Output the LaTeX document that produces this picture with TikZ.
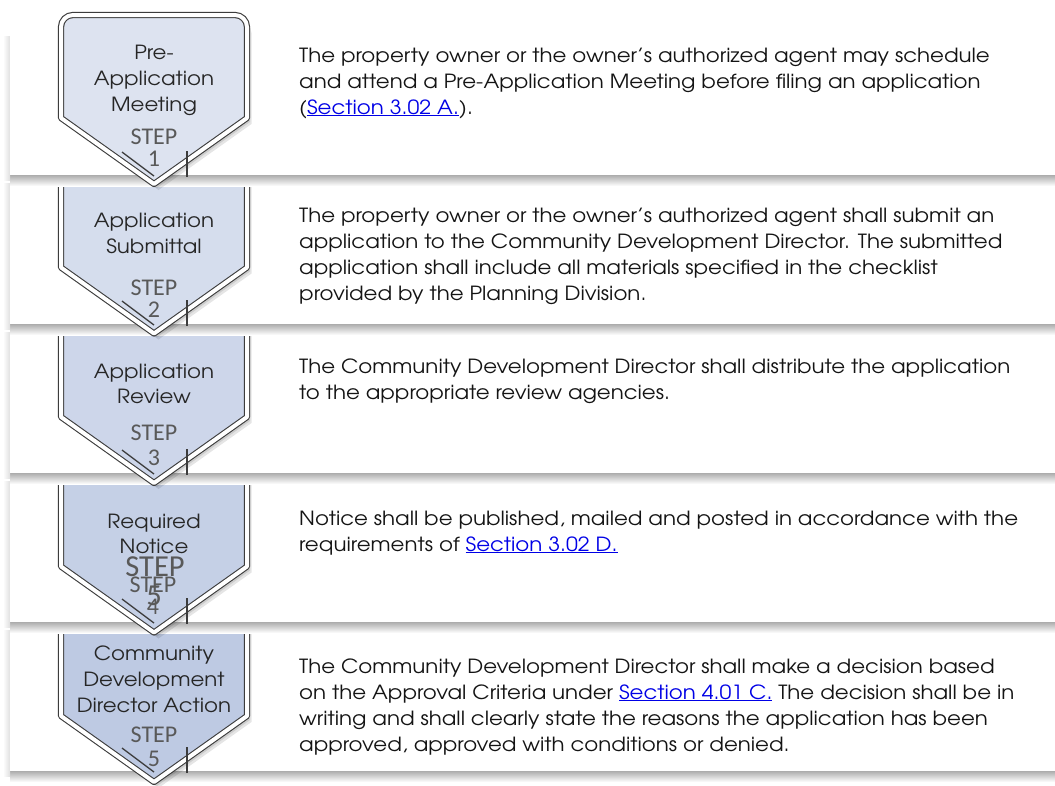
\documentclass[tikz,border=0pt]{standalone}
\usepackage{fontspec}
\setmainfont{texgyreadventor}[Extension=.otf, UprightFont=*-regular, BoldFont=*-bold, FakeStretch=1.095]
\newfontfamily\stepfont{Carlito}
\definecolor{chA}{RGB}{221,227,240}
\definecolor{chB}{RGB}{213,221,237}
\definecolor{chC}{RGB}{205,214,234}
\definecolor{chD}{RGB}{197,208,230}
\definecolor{chE}{RGB}{190,202,227}
\definecolor{chline}{RGB}{60,60,60}
\definecolor{labtxt}{RGB}{38,38,38}
\definecolor{steptxt}{RGB}{89,89,89}
\definecolor{linkblue}{RGB}{0,0,230}
\definecolor{bodytxt}{RGB}{20,20,20}
\newcommand\lnk[1]{\textcolor{linkblue}{\underline{#1}}}
\begin{document}
\begin{tikzpicture}[x=1pt,y=-1pt,
  chevp/.style={insert path={(154,15) -- (235,15) arc[start angle=-90,end angle=0,radius=12] -- (247,118) -- (154,184) -- (61,118) -- (61,27) arc[start angle=180,end angle=270,radius=12] -- cycle}},
  chevbox/.style={draw=chline, double=white, double distance=4pt, line width=1.1pt, line join=round},
  chevshadow/.style={fill=black, opacity=0.10},
  rowshadow/.style={top color=gray!65, bottom color=white},
  sideshadow/.style={left color=white, right color=gray!25},
  rowtext/.style={anchor=base west, inner sep=0pt, text=bodytxt, font=\fontsize{19.5}{26}\selectfont},
  labtext/.style={anchor=base, inner sep=0pt, text=labtxt, font=\fontsize{19.5}{26}\selectfont},
  steptext/.style={anchor=base, inner sep=0pt, text=steptxt, font=\stepfont\fontsize{24}{28}\selectfont},
  bigstep/.style={anchor=base, inner sep=0pt, text=steptxt, font=\stepfont\fontsize{30.5}{34}\selectfont},
  glitch/.style={draw=chline, line width=1.3pt}
]
\useasboundingbox (0,0) rectangle (1055,785);
\fill[white] (0,0) rectangle (1055,785);
% rows and chevrons, bottom to top
\foreach \k/\T/\B/\col in {5/627/771/chE,4/478/622/chD,3/329/473/chC,2/180/324/chB,1/33/175/chA}{
  \fill[rowshadow] (10,\B) rectangle (1055,\B+11);
  \fill[sideshadow] (3,\T+3) rectangle (10,\B+5);
  \fill[white] (10,\T) rectangle (1055,\B);
  \begin{scope}[shift={(0,{149.5*(\k-1)})}]
    \path[chevshadow, shift={(1.5,2)}, chevp];
    \path[chevshadow, shift={(3,4)}, chevp];
    \path[chevshadow, shift={(4.5,6)}, chevp];
    \path[fill=\col, chevp];
    \path[chevbox, chevp];
  \end{scope}
  \begin{scope}[shift={(0,{149*(\k-1)})}]
    \coordinate (ga\k) at (122,152);
    \coordinate (gb\k) at (154,176);
    \coordinate (gc\k) at (187,151);
    \coordinate (gd\k) at (187,177);
    \draw[glitch] (ga\k) -- (gb\k);
    \draw[glitch] (gc\k) -- (gd\k);
  \end{scope}
}
% chevron labels
\node[labtext] (l1a) at (154,59) {Pre-};
\node[labtext] (l1b) at (154,85) {Application};
\node[labtext] (l1c) at (154,111) {Meeting};
\node[steptext] (s1) at (154,144) {STEP};
\node[steptext] (n1) at (154,166) {1};
\node[labtext] (l2a) at (154,227) {Application};
\node[labtext] (l2b) at (154,253) {Submittal};
\node[steptext] (s2) at (154,295) {STEP};
\node[steptext] (n2) at (154,317) {2};
\node[labtext] (l3a) at (154,378) {Application};
\node[labtext] (l3b) at (154,403) {Review};
\node[steptext] (s3) at (154,440) {STEP};
\node[steptext] (n3) at (154,465) {3};
\node[labtext] (l4a) at (154,528) {Required};
\node[labtext] (l4b) at (154,553) {Notice};
\node[steptext] (s4) at (153,592) {STEP};
\node[steptext] (n4) at (153,614) {4};
\node[bigstep] (s4b) at (155,576) {STEP};
\node[bigstep] (n4b) at (154,605) {5};
\node[labtext] (l5a) at (154,660) {Community};
\node[labtext] (l5b) at (154,686) {Development};
\node[labtext] (l5c) at (154,712) {Director Action};
\node[steptext] (s5) at (154,742) {STEP};
\node[steptext] (n5) at (154,766) {5};
% row texts
\node[rowtext] (t1a) at (299,62) {The property owner or the owner’s authorized agent may schedule};
\node[rowtext] (t1b) at (299,88) {and attend a Pre-Application Meeting before filing an application};
\node[rowtext] (t1c) at (299,114) {(\lnk{Section 3.02 A.}).};
\node[rowtext] (t2a) at (299,222) {The property owner or the owner’s authorized agent shall submit an};
\node[rowtext] (t2b) at (299,248) {application to the Community Development Director. The submitted};
\node[rowtext] (t2c) at (299,274) {application shall include all materials specified in the checklist};
\node[rowtext] (t2d) at (299,300) {provided by the Planning Division.};
\node[rowtext] (t3a) at (299,373) {The Community Development Director shall distribute the application};
\node[rowtext] (t3b) at (299,399) {to the appropriate review agencies.};
\node[rowtext] (t4a) at (299,525) {Notice shall be published, mailed and posted in accordance with the};
\node[rowtext] (t4b) at (299,551) {requirements of \lnk{Section 3.02 D.}};
\node[rowtext] (t5a) at (299,673) {The Community Development Director shall make a decision based};
\node[rowtext] (t5b) at (299,699) {on the Approval Criteria under \lnk{Section 4.01 C.} The decision shall be in};
\node[rowtext] (t5c) at (299,725) {writing and shall clearly state the reasons the application has been};
\node[rowtext] (t5d) at (299,751) {approved, approved with conditions or denied.};
\end{tikzpicture}
\end{document}
